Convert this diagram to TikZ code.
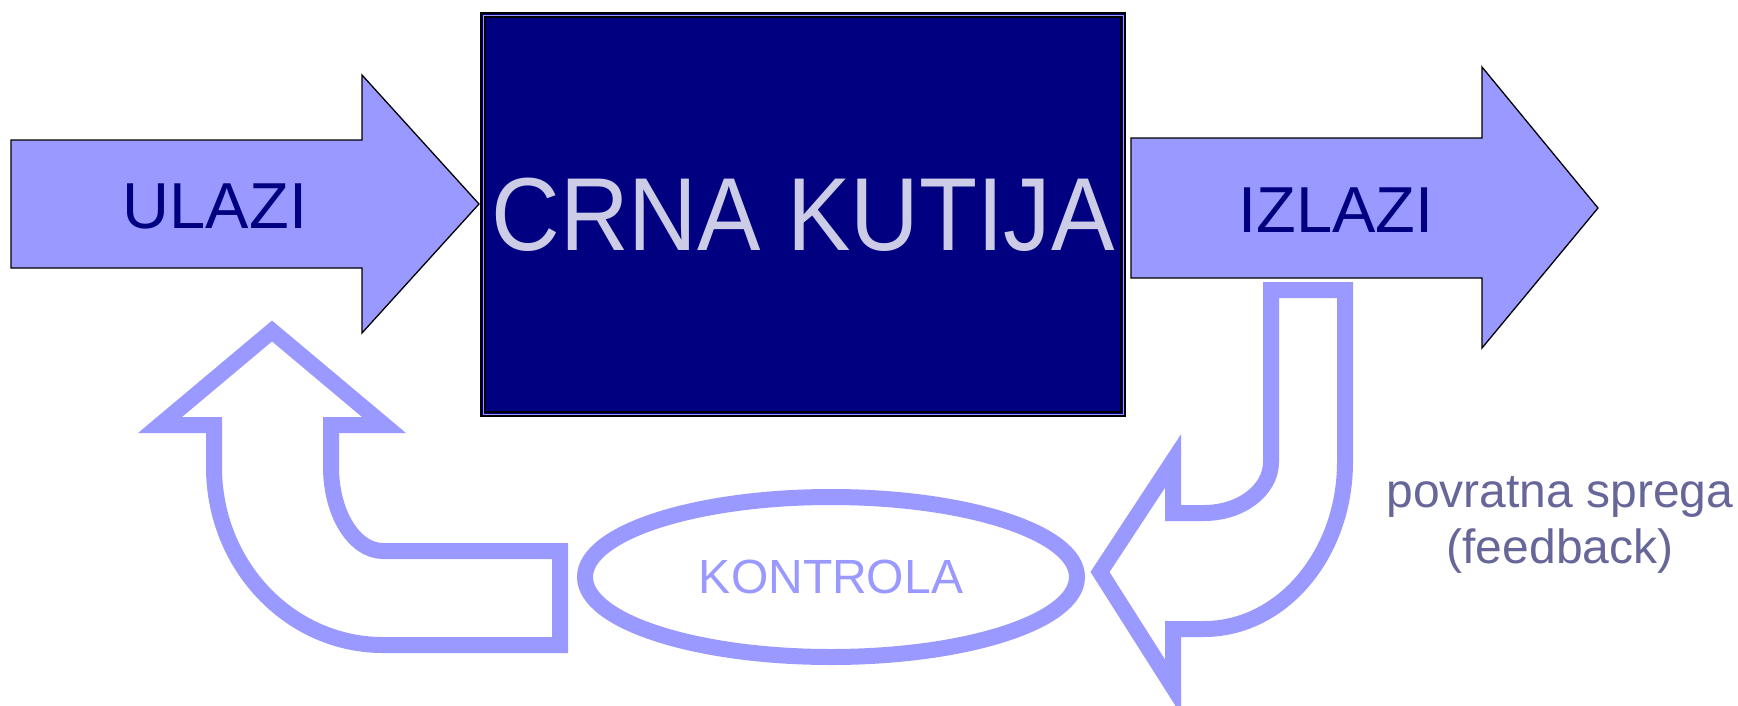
\documentclass[tikz,border=0pt]{standalone}
\usepackage{fontspec}
\setmainfont{Liberation Sans}
\usetikzlibrary{positioning,shapes}
\definecolor{lav}{RGB}{153,153,255}
\definecolor{navy}{RGB}{0,0,128}
\definecolor{pale}{RGB}{204,204,230}
\definecolor{dusk}{RGB}{102,102,153}

\begin{document}
\begin{tikzpicture}[x=1pt,y=-1pt,
  fat/.style={draw=black,line width=1.3pt,fill=lav,line join=miter},
  hollow/.style={draw=lav,line width=16pt,line join=miter},
  big/.style={font=\fontsize{65}{70}\selectfont,text=navy}]
\useasboundingbox (0,0) rectangle (1738,705);

% ulazi i izlazi
\draw[fat] (11,140) -- (362,140) -- (362,75) -- (479,204) -- (362,333) -- (362,268) -- (11,268) -- cycle;
\draw[fat] (1131,138) -- (1482,138) -- (1482,67) -- (1598,208) -- (1482,348) -- (1482,278) -- (1131,278) -- cycle;
\node[big] (ulazi) at (215,206) {ULAZI};
\node[big] (izlazi) at (1336,210) {IZLAZI};

% crna kutija
\fill[navy] (481,13) rectangle (1125,416);
\draw[line width=1.2pt] (481,13) rectangle (1125,416);
\draw[lav,line width=1pt] (483,15) rectangle (1123,414);
\draw[line width=1.2pt] (485,17) rectangle (1121,412);
\node[font=\fontsize{97}{100}\selectfont,text=pale] (crna) at (803,215) {\scalebox{0.98}[1.07]{CRNA KUTIJA}};

% kontrola
\node[draw=lav,line width=16pt,ellipse,minimum width=492,minimum height=160,inner sep=0pt,
  font=\fontsize{48}{50}\selectfont,text=lav] (kontrola) at (831,577) {KONTROLA};

% povratna sprega
\draw[hollow] (1271,290) -- (1345,290) -- (1345,462) arc[start angle=0,end angle=90,x radius=141,y radius=167]
  -- (1173,629) -- (1173,687) -- (1100,572) -- (1173,461) -- (1173,513) -- (1204,513)
  arc[start angle=90,end angle=0,x radius=67,y radius=51] -- cycle;
\draw[hollow] (272,331) -- (384,425) -- (331,425) -- (331,467) arc[start angle=180,end angle=90,x radius=52,y radius=84]
  -- (560,551) -- (560,645) -- (383,645) arc[start angle=90,end angle=180,x radius=169,y radius=178]
  -- (214,425) -- (160,425) -- cycle;

\node[font=\fontsize{48}{56}\selectfont,text=dusk,anchor=base] (sprega) at (1560,507) {povratna sprega};
\node[font=\fontsize{48}{56}\selectfont,text=dusk,anchor=base] (feedback) at (1560,563) {(feedback)};

\end{tikzpicture}
\end{document}
